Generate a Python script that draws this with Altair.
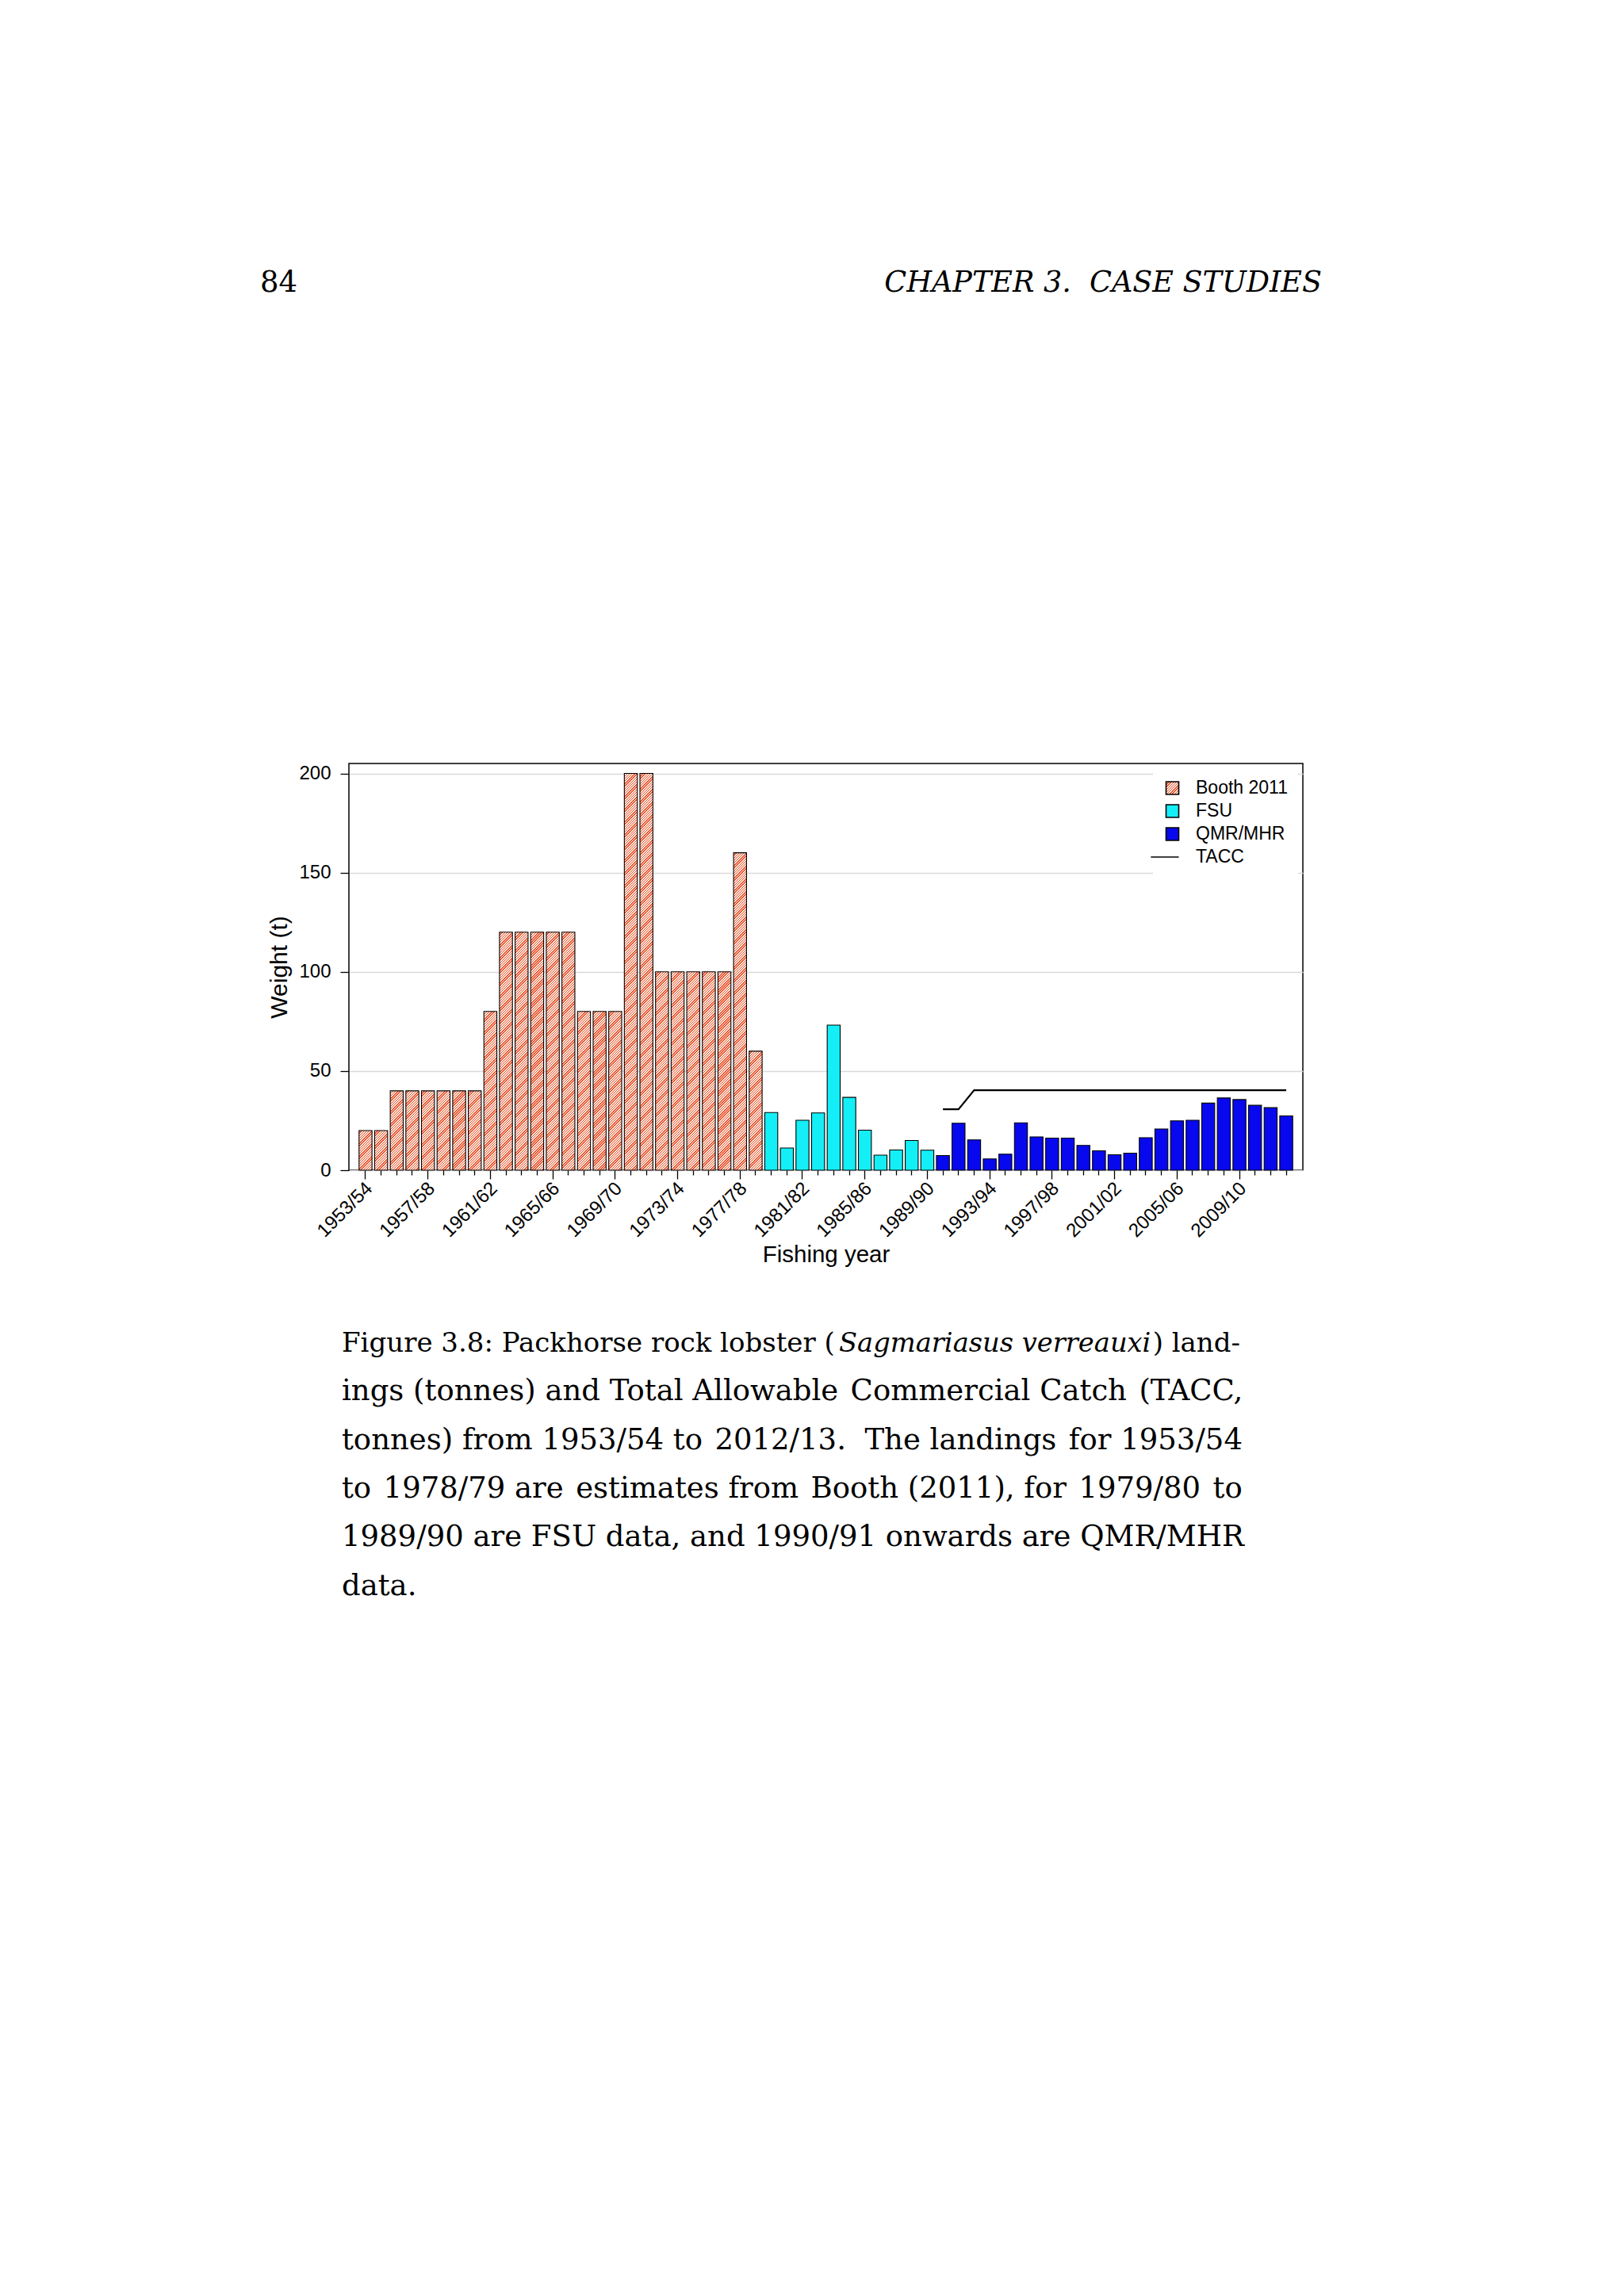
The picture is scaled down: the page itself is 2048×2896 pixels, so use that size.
import json
import altair as alt

# ---------------- data ----------------
years = [f"{y}/{str(y + 1)[-2:]}" for y in range(1953, 2013)]
tick_labels = ["1953/54", "1957/58", "1961/62", "1965/66", "1969/70", "1973/74",
               "1977/78", "1981/82", "1985/86", "1989/90", "1993/94", "1997/98",
               "2001/02", "2005/06", "2009/10"]
series_names = ["Booth 2011", "FSU", "QMR/MHR", "TACC"]

booth_values = [20, 20, 40, 40, 40, 40, 40, 40, 80, 120, 120, 120, 120, 120,
                80, 80, 80, 200, 200, 100, 100, 100, 100, 100, 160, 60]
fsu_values = [29.1, 11.2, 25.2, 28.9, 73.1, 36.7, 20.2, 7.6, 10.2, 15.0, 10.1]
qmr_values = [7.4, 23.7, 15.3, 5.7, 8.1, 23.9, 16.8, 16.2, 16.2, 12.5, 9.8, 7.8,
              8.6, 16.4, 20.8, 24.9, 25.2, 33.8, 36.4, 35.6, 32.7, 31.5, 27.4]
tacc_values = [30.7, 30.7, 40.3, 40.3, 40.3, 40.3, 40.3, 40.3, 40.3, 40.3, 40.3,
               40.3, 40.3, 40.3, 40.3, 40.3, 40.3, 40.3, 40.3, 40.3, 40.3, 40.3, 40.3]

booth_years = years[:26]
fsu_years = years[26:37]
qmr_years = years[37:]
tacc_years = years[37:]

HS = "\u200a"  # hair space used to justify caption lines
header_left = "84"
header_right = "CHAPTER 3.\u00a0 CASE STUDIES"
caption_l1 = ["Figure 3.8: Packhorse rock lobster (", "Sagmariasus verreauxi", ") land-"]
caption_lines = [
    "ings (tonnes) and Total Allowable" + HS + " Commercial Catch" + HS + " (TACC,",
    "tonnes) from 1953/54 to" + HS + " 2012/13.\u00a0 The landings" + HS + " for 1953/54",
    "to" + HS + " 1978/79 are" + HS + " estimates from" + HS + " Booth (2011), for" + HS + " 1979/80" + HS + " to",
    "1989/90 are FSU data, and 1990/91 onwards are QMR/MHR",
    "data.",
]

# ---------------- style ----------------
SANS = "Liberation Sans"
SERIF = "DejaVu Serif"
W, H = 1203, 513
Y_MAX = 205
PAD_INNER, PAD_OUTER = 0.17, 0.65
RED, PALE = "#e9502a", "#fdeee6"
FSU_COL, QMR_COL = "#14eff7", "#0808ee"
PERIOD, FRAC = 3.2, 0.45
LINE_SYMBOL = "M-3.4,0L1,0"  # legend line ending at the right edge of the boxes

step = W / (len(years) - PAD_INNER + 2 * PAD_OUTER)
bw = step * (1 - PAD_INNER)
ppu = H / Y_MAX


def hatch_stops(length):
    stops = []
    k = 0
    while k * PERIOD < length:
        a = k * PERIOD / length
        b = min((k * PERIOD + FRAC * PERIOD) / length, 1.0)
        c = min((k + 1) * PERIOD / length, 1.0)
        stops += [(a, RED), (b, RED), (b, PALE), (c, PALE)]
        k += 1
    return stops


def hatch_fill(w, h):
    L = w + h
    m = L / (w * w + h * h)
    return {"gradient": "linear", "x1": 0, "y1": 0, "x2": w * m, "y2": h * m,
            "stops": [{"offset": round(o, 5), "color": c} for o, c in hatch_stops(L)]}


def hatch_expr(side):
    parts = ", ".join("{'offset': %.4f, 'color': '%s'}" % (o, c) for o, c in hatch_stops(2 * side))
    return "{'gradient': 'linear', 'x1': 0, 'y1': 0, 'x2': 1, 'y2': 1, 'stops': [" + parts + "]}"


bar_rows = []
for yr, v in zip(booth_years, booth_values):
    bar_rows.append({"year": yr, "value": v, "source": "Booth 2011", "fill": hatch_fill(bw, v * ppu)})
for yr, v in zip(fsu_years, fsu_values):
    bar_rows.append({"year": yr, "value": v, "source": "FSU", "fill": FSU_COL})
for yr, v in zip(qmr_years, qmr_values):
    bar_rows.append({"year": yr, "value": v, "source": "QMR/MHR", "fill": QMR_COL})
tacc_rows = [{"year": yr, "value": v, "source": "TACC"} for yr, v in zip(tacc_years, tacc_values)]

is_major = f"indexof({json.dumps(tick_labels)}, datum.value) >= 0"

x_axis = alt.Axis(
    labelExpr=f"{is_major} ? datum.value : ''",
    labelAngle=315, labelAlign="right", labelBaseline="middle",
    labelFont=SANS, labelFontSize=24, labelColor="black", labelPadding=8, labelOffset=5,
    labelOverlap=False, grid=False, domain=False,
    tickSize=11, tickWidth=1.3, tickColor="black",
    tickDash={"condition": {"test": is_major, "value": [12, 1]}, "value": [6, 30]},
    titleFont=SANS, titleFontSize=29.5, titleFontWeight="normal", titleColor="black",
    titleY=115, titleBaseline="alphabetic",
)
y_axis = alt.Axis(
    values=[0, 50, 100, 150, 200], grid=True, gridColor="#d9d9d9", gridWidth=1.5,
    domain=False, tickSize=11, tickWidth=1.3, tickColor="black",
    labelFont=SANS, labelFontSize=24, labelColor="black", labelPadding=12,
    titleFont=SANS, titleFontSize=30, titleFontWeight="normal", titleColor="black",
    titleAngle=270, titleX=-79, titleY=H / 2, titleAlign="center", titleBaseline="alphabetic",
)

x_enc = alt.X("year:N", scale=alt.Scale(domain=years, paddingInner=PAD_INNER, paddingOuter=PAD_OUTER),
              axis=x_axis, title="Fishing year")
y_enc = alt.Y("value:Q", scale=alt.Scale(domain=[0, Y_MAX], nice=False, zero=True),
              axis=y_axis, title="Weight (t)", stack=None)

bars = alt.Chart(alt.Data(values=bar_rows)).mark_bar(stroke="black", strokeWidth=1.1).encode(
    x=x_enc, y=y_enc, fill=alt.Fill("fill:N", scale=None, legend=None)
)

tacc = alt.Chart(alt.Data(values=tacc_rows)).mark_line(color="black", strokeWidth=2.2).encode(
    x=x_enc, y=y_enc
)

leg = alt.Legend(
    title=None, orient="none", legendX=1014, legendY=6.5, fillColor="white", padding=13,
    labelFont=SANS, labelFontSize=23, labelColor="black", labelOffset=18, labelLimit=400,
    symbolSize=256, symbolStrokeWidth=1.6, symbolOpacity=1,
    rowPadding=5,
)
legend_layer = alt.Chart(
    alt.Data(values=[{"year": years[0], "value": 0, "source": series_names[0]}])
).transform_filter("false").mark_point(filled=True, strokeWidth=1.6, size=256).encode(
    x=x_enc, y=y_enc,
    color=alt.Color("source:N", scale=alt.Scale(domain=series_names,
                    range=[{"expr": hatch_expr(16)}, FSU_COL, QMR_COL, "black"]), legend=leg),
    shape=alt.Shape("source:N", scale=alt.Scale(domain=series_names,
                    range=["square", "square", "square", LINE_SYMBOL]), legend=leg),
    stroke=alt.Stroke("source:N", scale=alt.Scale(domain=series_names,
                      range=["black", "black", "black", "black"]), legend=leg),
)

# page text (header and caption), positioned relative to the plot origin
OX, OY = 440, 963


def text_layer(s, x, y, size, align="left", style="normal"):
    return alt.Chart(alt.Data(values=[{"t": s}])).mark_text(
        font=SERIF, fontSize=size, fontStyle=style, align=align, baseline="alphabetic", color="black"
    ).encode(x=alt.value(x), y=alt.value(y), text="t:N")


texts = [
    text_layer(header_left, 328 - OX, 368 - OY, 37),
    text_layer(header_right, 1667 - OX, 368 - OY, 36.5, align="right", style="italic"),
    text_layer(caption_l1[0], 431 - OX, 1705 - OY, 34),
    text_layer(caption_l1[1], 1058 - OX, 1705 - OY, 33.7, style="italic"),
    text_layer(caption_l1[2], 1564 - OX, 1705 - OY, 34, align="right"),
]
for i, line in enumerate(caption_lines):
    texts.append(text_layer(line, 431 - OX, 1705 - OY + 61.3 * (i + 1), 37))

chart = alt.layer(bars, tacc, legend_layer, *texts).properties(
    width=W, height=H,
    autosize=alt.AutoSizeParams(type="none"),
    padding={"left": OX - 8, "top": OY - 8, "right": 2032 - (OX - 8) - W, "bottom": 2880 - (OY - 8) - H},
    background="white",
).configure_view(stroke="black", strokeWidth=1.5)

chart.save("out.html", embed_options={"renderer": "svg", "actions": False})
